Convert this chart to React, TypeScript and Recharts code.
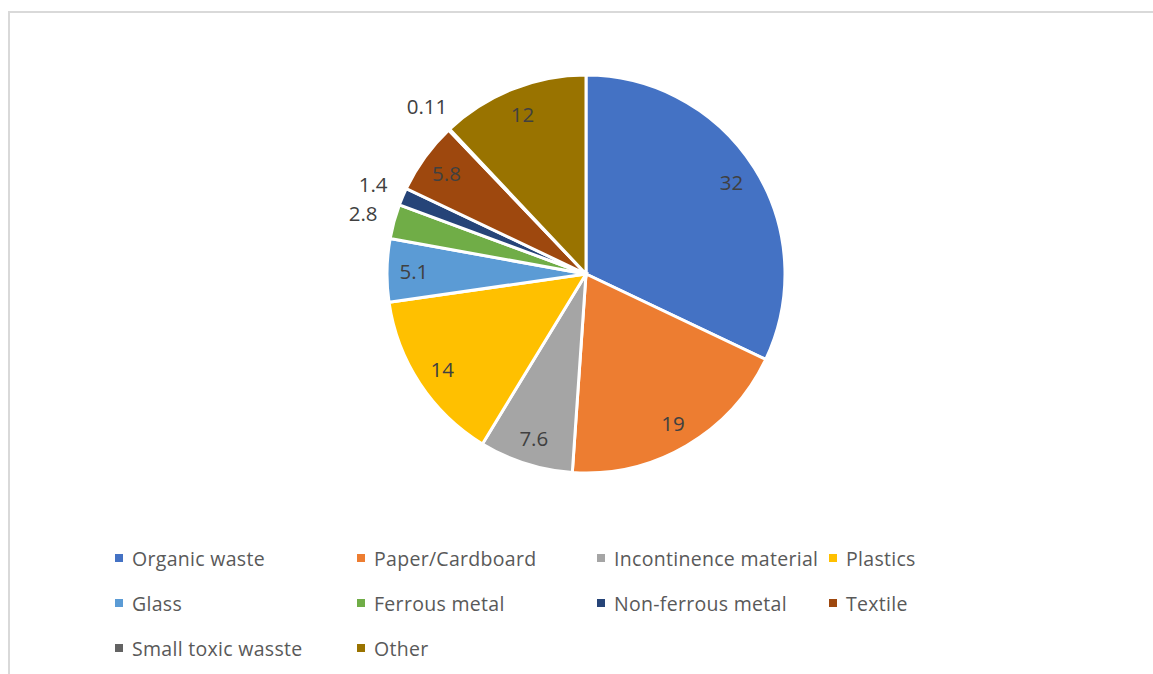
import { PieChart, Pie, Cell } from "recharts";

// waste composition
const categories = [
  "Organic waste",
  "Paper/Cardboard",
  "Incontinence material",
  "Plastics",
  "Glass",
  "Ferrous metal",
  "Non-ferrous metal",
  "Textile",
  "Small toxic wasste",
  "Other",
];
const shares = [32, 19, 7.6, 14, 5.1, 2.8, 1.4, 5.8, 0.11, 12];
const colors = [
  "#4472C4",
  "#ED7D31",
  "#A5A5A5",
  "#FFC000",
  "#5B9BD5",
  "#70AD47",
  "#264478",
  "#9E480E",
  "#636363",
  "#997300",
];

const data = categories.map((name, i) => ({ name, value: shares[i] }));

const RADIAN = Math.PI / 180;
const FONT = "'Open Sans', 'Noto Sans', sans-serif";

const renderLabel = (props: any) => {
  const { cx, cy, midAngle, outerRadius, value } = props;
  const outside = value < 3;
  const r = outside ? outerRadius + 32 : outerRadius * 0.865;
  const x = cx + r * Math.cos(-midAngle * RADIAN);
  const y = cy + r * Math.sin(-midAngle * RADIAN);
  return (
    <text
      x={x}
      y={y}
      fill="#404040"
      fontSize={20.5}
      fontFamily={FONT}
      textAnchor="middle"
      dominantBaseline="central"
    >
      {value}
    </text>
  );
};

function LegendGrid() {
  const colX = [115, 357, 597, 829];
  const rowY = [558, 603, 648];
  return (
    <>
      {categories.map((name, i) => {
        const col = i % 4;
        const row = Math.floor(i / 4);
        return (
          <div
            key={name}
            style={{
              position: "absolute",
              left: colX[col],
              top: rowY[row] - 13,
              height: 26,
              display: "flex",
              alignItems: "center",
              fontFamily: FONT,
              fontSize: 19.5,
              letterSpacing: 0.3,
              color: "#595959",
              whiteSpace: "nowrap",
            }}
          >
            <span
              style={{
                display: "inline-block",
                width: 8,
                height: 8,
                background: colors[i],
                marginRight: 9,
              }}
            />
            {name}
          </div>
        );
      })}
    </>
  );
}

export default function App() {
  return (
    <div style={{ position: "relative", width: 1153, height: 674, overflow: "hidden", background: "#fff" }}>
      <style>{"body{margin:0;overflow:hidden}"}</style>
      <div
        style={{
          position: "absolute",
          left: 8,
          top: 11,
          width: 1200,
          height: 720,
          border: "2px solid #d9d9d9",
        }}
      />
      <div style={{ position: "absolute", left: 0, top: 0 }}>
        <PieChart width={1153} height={674} margin={{ top: 0, right: 0, bottom: 0, left: 0 }}>
          <Pie
            data={data}
            dataKey="value"
            nameKey="name"
            cx={586}
            cy={274}
            outerRadius={199}
            startAngle={90}
            endAngle={-270}
            stroke="#fff"
            strokeWidth={3}
            label={renderLabel}
            labelLine={false}
            isAnimationActive={false}
          >
            {data.map((d, i) => (
              <Cell key={d.name} fill={colors[i]} />
            ))}
          </Pie>
        </PieChart>
      </div>
      <LegendGrid />
    </div>
  );
}
